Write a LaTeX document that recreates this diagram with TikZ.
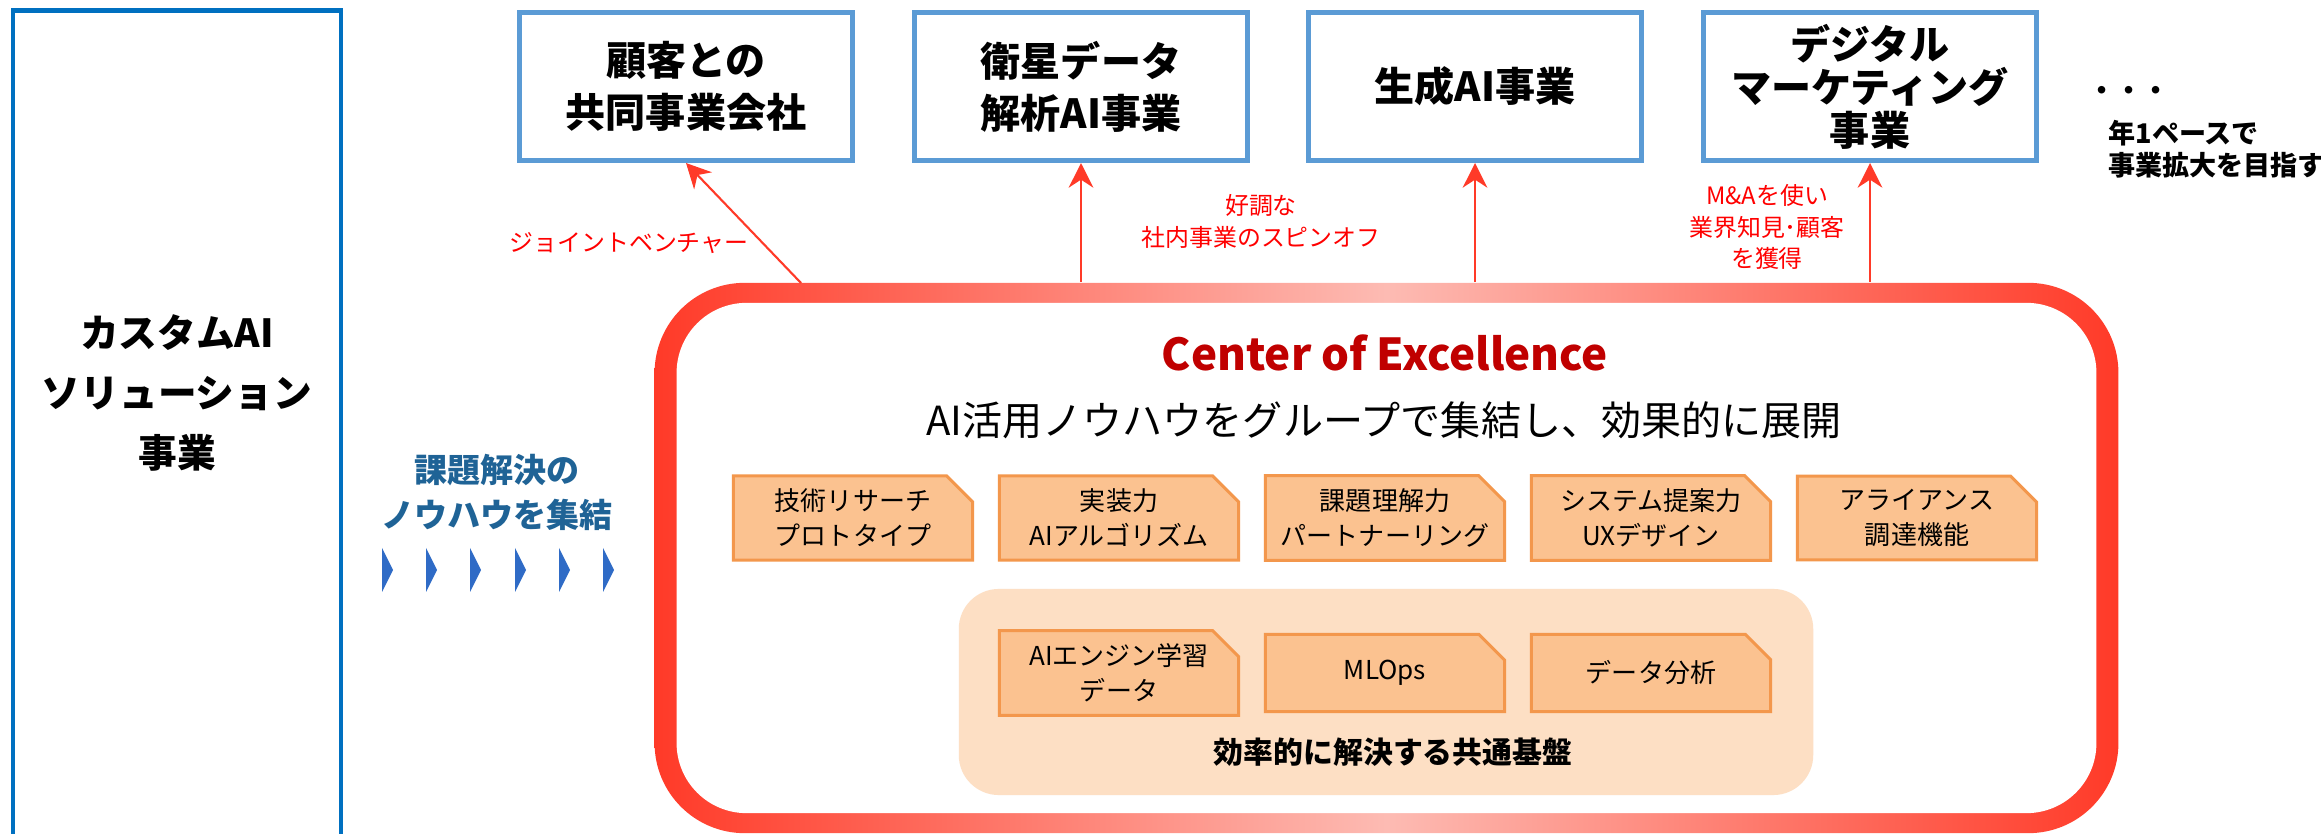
\documentclass[tikz,border=0pt]{standalone}
\usepackage{fontspec}
\setmainfont{Noto Sans CJK JP}
\usetikzlibrary{arrows.meta,shapes.misc}
\definecolor{bizblue}{HTML}{5B9BD5}
\definecolor{leftblue}{HTML}{0070C0}
\definecolor{coered}{HTML}{FF3A28}
\definecolor{coepink}{HTML}{FDBBB3}
\definecolor{titlered}{HTML}{C00000}
\definecolor{skillfill}{HTML}{FBC290}
\definecolor{skilldraw}{HTML}{F3974C}
\definecolor{basefill}{HTML}{FDDFC4}
\definecolor{knowblue}{HTML}{1F6396}
\definecolor{chevblue}{HTML}{2F6BC6}

\begin{document}
\begin{tikzpicture}[x=0.01cm, y=-0.01cm,
	bizbox/.style={draw=bizblue, line width=1.42pt, fill=white, minimum width=3.33cm, minimum height=1.48cm, inner sep=0pt, align=center},
	bizfont/.style={font=\fontsize{11.4}{#1}\selectfont\bfseries},
	skill/.style={chamfered rectangle, chamfered rectangle corners=north east, chamfered rectangle xsep=0.13cm, chamfered rectangle ysep=0.13cm, draw=skilldraw, fill=skillfill, line width=0.85pt, minimum width=2.39cm, minimum height=0.77cm, inner sep=0pt, align=center, font=\fontsize{7.4}{10}\selectfont},
	note/.style={text=red, align=center, font=\fontsize{6.8}{9.1}\selectfont},
	arr/.style={draw=coered, line width=0.6pt, -{Stealth[length=7pt, width=7pt]}}]
	\useasboundingbox (0,0) rectangle (2321,834);

	% left business
	\node [draw=leftblue, line width=1.3pt, minimum width=3.28cm, minimum height=8.27cm] (cbox) at (177,424.5) {};
	\node [align=center, font=\fontsize{11}{17.1}\selectfont\bfseries] (ctext) at (177,393) {カスタムAI\\ソリューション\\事業};

	% know-how
	\node [align=center, text=knowblue, font=\fontsize{9.4}{12.8}\selectfont\bfseries] (know) at (497,492) {課題解決の\\ノウハウを集結};
	\foreach \x in {382,426,470,515,559,603}
		\fill [chevblue] (\x,548) -- (\x+11,570) -- (\x,592) -- cycle;

	% Center of Excellence frame
	\node [minimum width=14.63cm, minimum height=5.5cm, rounded corners=0.9cm, left color=coered, right color=coered, middle color=coepink, inner sep=0pt] (coe) at (1386.5,558) {};
	\node [fill=white, minimum width=14.19cm, minimum height=5.1cm, rounded corners=0.7cm, inner sep=0pt] (coein) at (coe.center) {};
	\node [text=titlered, font=\fontsize{12.5}{15}\selectfont\bfseries] (coetitle) at (1385,353) {Center of Excellence};
	\node [font=\fontsize{11.4}{14}\selectfont] (coemsg) at (1384,420) {AI活用ノウハウをグループで集結し、効果的に展開};

	\node [skill] (s1) at (853,518) {技術リサーチ\\プロトタイプ};
	\node [skill] (s2) at (1119,518) {実装力\\AIアルゴリズム};
	\node [skill] (s3) at (1385,518) {課題理解力\\パートナーリング};
	\node [skill] (s4) at (1651,518) {システム提案力\\UXデザイン};
	\node [skill] (s5) at (1917,518) {アライアンス\\調達機能};

	\node [fill=basefill, minimum width=8.54cm, minimum height=2.06cm, rounded corners=0.4cm, inner sep=0pt] (base) at (1386,692) {};
	\node [skill] (p1) at (1119,673) {AIエンジン学習\\データ};
	\node [skill] (p2) at (1385,673) {MLOps};
	\node [skill] (p3) at (1651,673) {データ分析};
	\node [font=\fontsize{8.5}{10}\selectfont\bfseries] (basetext) at (1393,752) {効率的に解決する共通基盤};

	% group businesses
	\node [bizbox, bizfont=14.8] (b1) at (686,86.5) {顧客との\\共同事業会社};
	\node [bizbox, bizfont=14.8] (b2) at (1081,86.5) {衛星データ\\解析AI事業};
	\node [bizbox, bizfont=14.8] (b3) at (1475,86.5) {生成AI事業};
	\node [bizbox, bizfont=12.2] (b4) at (1870,86.5) {デジタル\\マーケティング\\事業};
	\node [font=\fontsize{7.7}{9}\selectfont\bfseries] (dots) at (2129,93) {・・・};
	\node [anchor=west, align=left, font=\fontsize{7.7}{9.1}\selectfont\bfseries] (pace) at (2096,149) {年1ペースで\\事業拡大を目指す};

	\coordinate (jvfoot) at (801,283);
	\draw [arr] (jvfoot) -- (b1.south);
	\draw [arr] (coe.north -| b2.south) -- (b2.south);
	\draw [arr] (coe.north -| b3.south) -- (b3.south);
	\draw [arr] (coe.north -| b4.south) -- (b4.south);
	\node [note] (jv) at (629,243) {ジョイントベンチャー};
	\node [note] (spin) at (1261,221) {好調な\\社内事業のスピンオフ};
	\node [note, font=\fontsize{6.8}{8.9}\selectfont] (ma) at (1767,227) {M\&Aを使い\\業界知見･顧客\\を獲得};
\end{tikzpicture}
\end{document}
